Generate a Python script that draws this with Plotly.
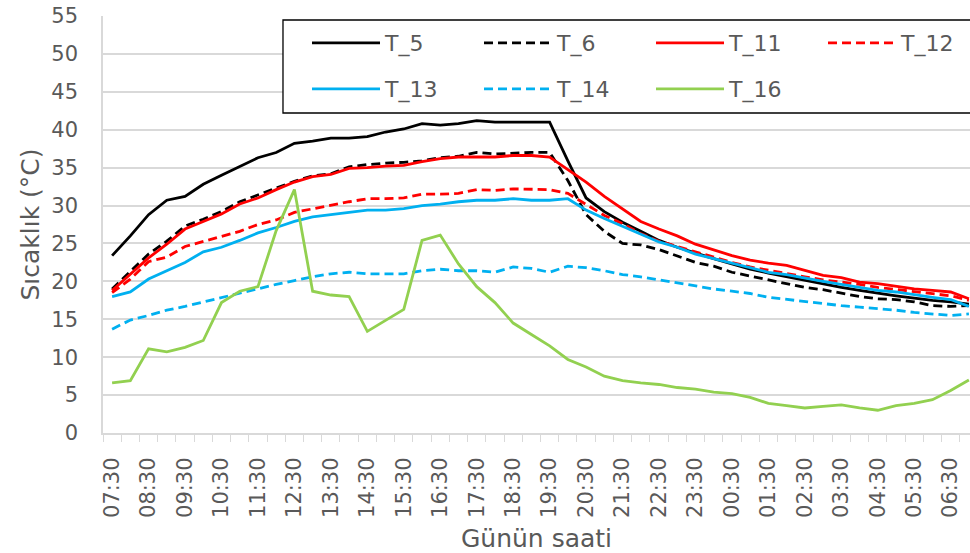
import plotly.graph_objects as go

# Half-hourly categories from 07:30 to 07:00 next day
times = ["07:30","08:00","08:30","09:00","09:30","10:00","10:30","11:00","11:30","12:00",
         "12:30","13:00","13:30","14:00","14:30","15:00","15:30","16:00","16:30","17:00",
         "17:30","18:00","18:30","19:00","19:30","20:00","20:30","21:00","21:30","22:00",
         "22:30","23:00","23:30","00:00","00:30","01:00","01:30","02:00","02:30","03:00",
         "03:30","04:00","04:30","05:00","05:30","06:00","06:30","07:00"]
tick_labels = times[::2]

T_5 = [23.4,26.0,28.8,30.7,31.2,32.8,34.0,35.2,36.3,37.0,38.2,38.5,38.9,38.9,39.1,39.7,40.1,40.8,40.6,40.8,
       41.2,41.0,41.0,41.0,41.0,35.9,31.0,29.2,27.8,26.6,25.4,24.5,23.7,23.0,22.3,21.6,21.1,20.6,20.2,19.7,
       19.2,18.8,18.4,18.1,17.8,17.5,17.3,17.0]
T_6 = [19.0,21.3,23.6,25.3,27.3,28.2,29.2,30.5,31.4,32.3,33.2,33.9,34.2,35.1,35.4,35.6,35.7,35.9,36.3,36.5,
       37.0,36.8,36.9,37.0,37.0,33.3,28.8,26.6,25.0,24.8,24.2,23.4,22.5,22.0,21.2,20.7,20.2,19.7,19.2,18.9,
       18.4,18.0,17.7,17.6,17.3,16.8,16.7,16.8]
T_11 = [18.8,21.0,23.1,24.9,26.9,27.9,28.9,30.2,31.0,32.1,33.1,33.8,34.1,34.9,35.0,35.2,35.3,35.8,36.2,36.4,
        36.4,36.4,36.6,36.6,36.4,34.8,33.1,31.2,29.5,27.9,26.9,26.0,24.9,24.1,23.4,22.8,22.4,22.1,21.4,20.8,
        20.5,19.9,19.7,19.3,19.0,18.8,18.6,17.7]
T_12 = [18.5,20.3,22.6,23.2,24.6,25.3,25.9,26.6,27.5,28.1,29.1,29.6,30.0,30.5,30.9,30.9,31.0,31.5,31.5,31.6,
        32.1,32.0,32.2,32.2,32.1,31.6,30.1,28.7,27.6,26.3,25.3,24.6,23.9,23.1,22.5,21.9,21.5,21.1,20.6,20.2,
        19.9,19.6,19.2,18.9,18.7,18.4,18.1,17.5]
T_13 = [18.0,18.6,20.3,21.4,22.5,23.9,24.5,25.4,26.4,27.1,27.9,28.5,28.8,29.1,29.4,29.4,29.6,30.0,30.2,30.5,
        30.7,30.7,30.9,30.7,30.7,30.9,29.4,28.3,27.3,26.2,25.2,24.5,23.6,23.0,22.4,21.8,21.2,20.9,20.5,20.0,
        19.6,19.2,18.8,18.6,18.2,17.9,17.6,16.7]
T_14 = [13.7,14.9,15.5,16.2,16.7,17.3,17.9,18.5,19.0,19.6,20.1,20.6,21.0,21.2,21.0,21.0,21.0,21.4,21.6,21.4,
        21.4,21.2,21.9,21.7,21.2,22.0,21.8,21.4,20.9,20.6,20.2,19.8,19.3,19.0,18.7,18.4,17.9,17.6,17.3,17.0,
        16.8,16.6,16.4,16.2,15.9,15.7,15.5,15.7]
T_16 = [6.6,6.9,11.1,10.7,11.3,12.2,17.2,18.7,19.3,26.7,32.1,18.7,18.2,18.0,13.4,14.8,16.3,25.4,26.1,22.3,
        19.3,17.2,14.5,13.0,11.5,9.7,8.7,7.5,6.9,6.6,6.4,6.0,5.8,5.4,5.2,4.7,3.9,3.6,3.3,3.5,
        3.7,3.3,3.0,3.6,3.9,4.4,5.6,7.0]

# name, values, colour, dash, legend row
series = [
    ("T_5", T_5, "#000000", "solid", "legend"),
    ("T_6", T_6, "#000000", "9px,5px", "legend"),
    ("T_11", T_11, "#FF0000", "solid", "legend"),
    ("T_12", T_12, "#FF0000", "9px,5px", "legend"),
    ("T_13", T_13, "#00B0F0", "solid", "legend2"),
    ("T_14", T_14, "#00B0F0", "9px,5px", "legend2"),
    ("T_16", T_16, "#92D050", "solid", "legend2"),
]

FONT = "DejaVu Sans"
GRAY = "#595959"
GRID = "#d9d9d9"

pos = list(range(len(times)))  # category positions on the axis

fig = go.Figure()
for name, vals, color, dash, leg in series:
    fig.add_trace(go.Scatter(x=pos, y=vals, name=name, mode="lines", legend=leg,
                             line=dict(color=color, width=2.8, dash=dash),
                             customdata=times,
                             hovertemplate="%{customdata}: %{y}<extra>" + name + "</extra>"))

legend_common = dict(
    orientation="h", xanchor="left", yanchor="middle",
    bgcolor="rgba(0,0,0,0)", borderwidth=0,
    font=dict(family=FONT, size=22, color=GRAY),
    itemwidth=68, entrywidth=89, entrywidthmode="pixels",
    traceorder="normal",
)

fig.update_layout(
    width=970, height=553,
    margin=dict(l=103, r=0, t=16, b=120, autoexpand=False),
    paper_bgcolor="white", plot_bgcolor="white",
    font=dict(family=FONT, color=GRAY, size=21),
    showlegend=True,
    legend=dict(x=0.2353, y=0.9353, **legend_common),
    legend2=dict(x=0.2353, y=0.8249, **legend_common),
    shapes=[dict(type="rect", xref="paper", yref="paper",
                 x0=0.2076, x1=1.02, y0=0.7674, y1=0.9904,
                 line=dict(color="black", width=1.3), fillcolor="white", layer="above")],
    xaxis=dict(
        range=[-0.5, 47.06],
        tickmode="array", tickvals=pos[::2], ticktext=tick_labels,
        ticks="", tickangle=-90,
        tickfont=dict(family=FONT, size=21, color=GRAY),
        ticklabelstandoff=14,
        minor=dict(tickmode="linear", tick0=-0.5, dtick=1, ticks="outside",
                   ticklen=7, tickcolor=GRID, tickwidth=1.3, showgrid=False),
        showline=True, linecolor=GRID, linewidth=2,
        showgrid=False, zeroline=False, automargin=False,
        title=dict(text="Günün saati", font=dict(family=FONT, size=25, color=GRAY), standoff=16),
    ),
    yaxis=dict(
        range=[0, 55], dtick=5, tick0=0,
        showgrid=True, gridcolor=GRID, gridwidth=1.5,
        showline=True, linecolor=GRID, linewidth=1.5,
        zeroline=False, ticks="",
        ticklabelstandoff=19, automargin=False, ticklabeloverflow="allow",
        tickfont=dict(family=FONT, size=21, color=GRAY),
        title=dict(text="Sıcaklık (°C)", font=dict(family=FONT, size=25, color=GRAY), standoff=5),
    ),
)

fig.write_html("out.html",
               config={"displayModeBar": False},
               post_script="document.body.style.margin='0';document.body.style.overflow='hidden';")
